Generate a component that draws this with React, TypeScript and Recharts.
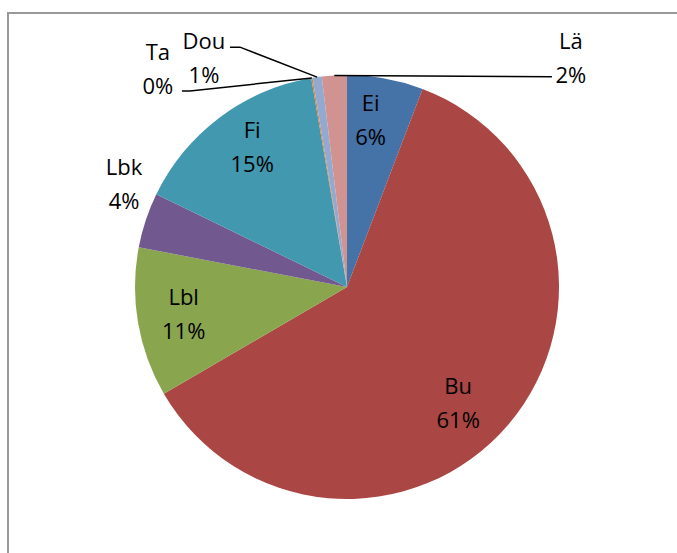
import { PieChart, Pie, Cell } from "recharts";

// Share of each category (percent), clockwise from 12 o'clock
const categories = ["Ei", "Bu", "Lbl", "Lbk", "Fi", "Ta", "Dou", "Lä"];
const shares = [5.8, 60.8, 11.4, 4.2, 15.1, 0.1, 0.7, 1.9];
const colors = [
  "#4572A7",
  "#AA4643",
  "#89A54E",
  "#71588F",
  "#4198AF",
  "#DB843D",
  "#93A9CF",
  "#D19392",
];

const data = categories.map((name, i) => ({ name, value: shares[i] }));

// where each label sits: angle clockwise from top (deg), distance as a factor of the radius,
// and for outside labels the elbow of the leader line relative to the label centre
const placement: Record<
  string,
  { angle: number; r: number; elbow?: [number, number][] }
> = {
  Ei: { angle: 8, r: 0.8 },
  Bu: { angle: 136, r: 0.755 },
  Lbl: { angle: 261, r: 0.78 },
  Lbk: { angle: 295, r: 1.16 },
  Fi: { angle: 326, r: 0.8 },
  Ta: { angle: 319.2, r: 1.365, elbow: [[24, 23], [32, 23]] },
  Dou: { angle: 328.1, r: 1.277, elbow: [[26, -10], [36, -10]] },
  Lä: { angle: 44.2, r: 1.515, elbow: [[-27, 20], [-19, 20]] },
};

const RAD = Math.PI / 180;
const FONT = "'Open Sans', sans-serif";

function renderLabel(props: any) {
  const { cx, cy, midAngle, outerRadius, percent, name } = props;
  const p = placement[name];
  const lx = cx + p.r * outerRadius * Math.sin(p.angle * RAD);
  const ly = cy - p.r * outerRadius * Math.cos(p.angle * RAD);
  const pct = `${Math.round(percent * 100)}%`;
  let leader = null;
  if (p.elbow) {
    const sx = cx + outerRadius * Math.cos(-midAngle * RAD);
    const sy = cy + outerRadius * Math.sin(-midAngle * RAD);
    const pts = [...p.elbow.map(([dx, dy]) => `${lx + dx},${ly + dy}`), `${sx},${sy}`];
    leader = (
      <polyline points={pts.join(" ")} fill="none" stroke="#000" strokeWidth={1.5} />
    );
  }
  return (
    <g key={name}>
      {leader}
      <text
        x={lx}
        y={ly - 17}
        textAnchor="middle"
        dominantBaseline="central"
        fontFamily={FONT}
        fontSize={22}
        fill="#000"
      >
        {name}
      </text>
      <text
        x={lx}
        y={ly + 17}
        textAnchor="middle"
        dominantBaseline="central"
        fontFamily={FONT}
        fontSize={22}
        fill="#000"
      >
        {pct}
      </text>
    </g>
  );
}

export default function App() {
  return (
    <div
      style={{
        position: "fixed",
        top: 0,
        left: 0,
        width: 677,
        height: 553,
        background: "#fff",
        overflow: "hidden",
      }}
    >
      <div
        style={{
          position: "absolute",
          left: 7,
          top: 12,
          width: 720,
          height: 600,
          border: "2px solid #999",
        }}
      />
      <div style={{ position: "absolute", left: 0, top: 0 }}>
        <PieChart
          width={677}
          height={553}
          margin={{ top: 0, right: 0, bottom: 0, left: 0 }}
        >
          <Pie
            data={data}
            dataKey="value"
            nameKey="name"
            cx={347}
            cy={287}
            outerRadius={212}
            startAngle={90}
            endAngle={-270}
            stroke="none"
            label={renderLabel}
            labelLine={false}
            isAnimationActive={false}
          >
            {data.map((d, i) => (
              <Cell key={d.name} fill={colors[i]} />
            ))}
          </Pie>
        </PieChart>
      </div>
    </div>
  );
}
